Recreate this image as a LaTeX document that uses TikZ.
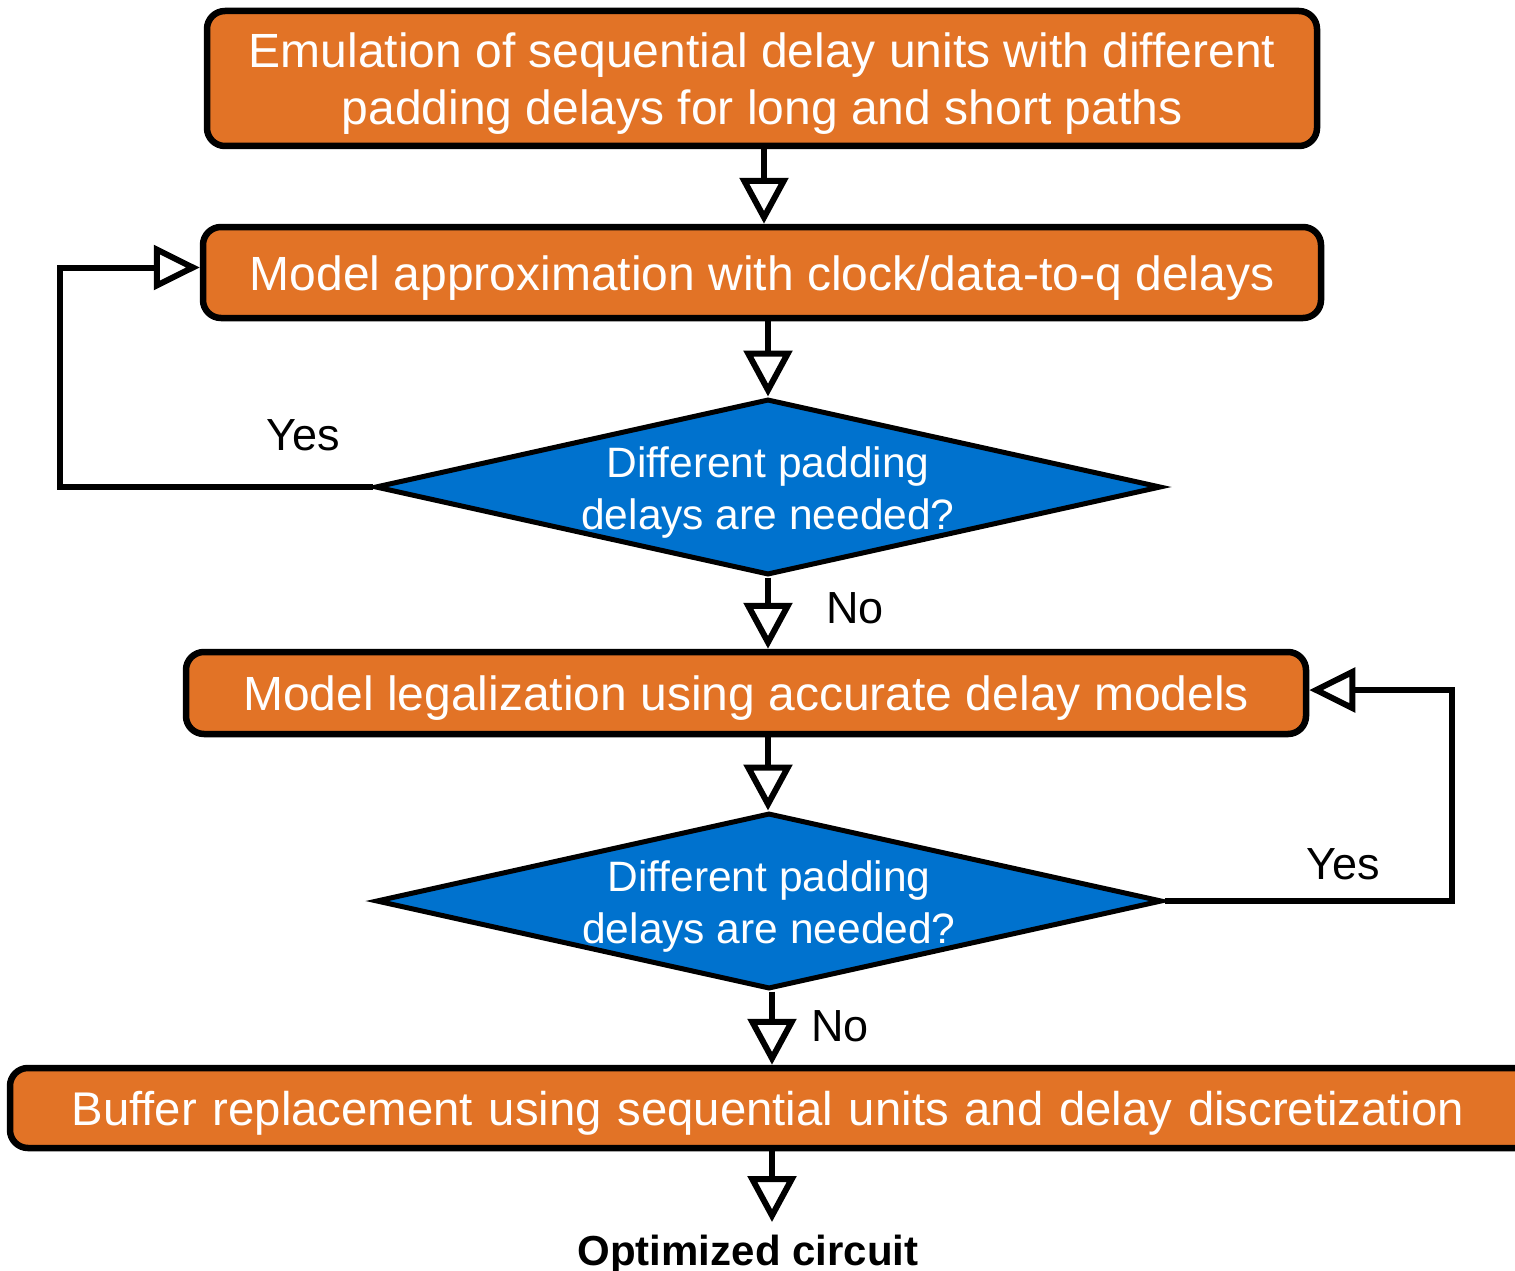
\documentclass[tikz,border=0pt]{standalone}
\usepackage{fontspec}
\setmainfont{Liberation Sans}
\usetikzlibrary{shapes.geometric,arrows.meta}
\definecolor{boxorange}{RGB}{226,115,38}
\definecolor{decblue}{RGB}{0,114,206}
% extra head room above a first text line, to lower the text block
\newcommand{\headroom}[1]{\rule{0pt}{#1}}
\tikzset{
  procbox/.style={draw=black, line width=6.5pt, fill=boxorange, rounded corners=18pt,
    text=white, align=center, inner sep=0pt, font=\fontsize{48}{57}\selectfont},
  decision/.style={diamond, draw=black, line width=5pt, fill=decblue, text=white,
    align=center, inner xsep=-60pt, inner ysep=-25pt, aspect=4.47,
    minimum width=786pt, minimum height=176pt,
    font=\fontsize{42.5}{52}\selectfont},
  flow/.style={line width=6pt, -{Triangle[open, length=46pt, width=48pt]}},
  loop/.style={line width=6pt, line join=miter, -{Triangle[open, length=46pt, width=44pt]}},
  tag/.style={font=\fontsize{45}{50}\selectfont, inner sep=0pt},
}
\begin{document}
\begin{tikzpicture}[x=1pt, y=-1pt]
\useasboundingbox[fill=white] (0,0) rectangle (1515,1271);

% process steps and decisions
\node[procbox, minimum width=1110pt, minimum height=135pt] (b1) at (762,78.5)
  {\headroom{45pt}Emulation of sequential delay units with different\\padding delays for long and short paths};
\node[procbox, minimum width=1118pt, minimum height=91pt] (b2) at (762,272.5)
  {\headroom{45pt}Model approximation with clock/data-to-q delays};
\node[decision] (d1) at (768,487) {\headroom{42pt}Different padding\\delays are needed?};
\node[procbox, minimum width=1120pt, minimum height=82pt] (b3) at (746,693)
  {\headroom{45pt}Model legalization using accurate delay models};
\node[decision] (d2) at (769,901) {\headroom{42pt}Different padding\\delays are needed?};
\node[procbox, minimum width=1540pt, minimum height=80pt, text width=1540pt,
  font=\fontsize{47.3}{57}\selectfont] (b4) at (780,1108)
  {\hspace*{-24pt}\headroom{45pt}Buffer replacement using sequential units and delay discretization};
\coordinate (fin) at (772,1222);
\node[font=\fontsize{42}{50}\selectfont\bfseries, inner sep=0pt, anchor=base] (res) at (748,1265)
  {Optimized circuit};

% main flow
\draw[flow] (b1.south -| 764,0) -- (b2.north -| 764,0);
\draw[flow] (b2.south -| d1.north) -- (d1.north);
\draw[flow] (d1.south) -- (b3.north -| d1.south);
\draw[flow] (b3.south -| d1.south) -- (d2.north -| d1.south);
\draw[flow] (d2.south -| 772,0) -- (b4.north -| 772,0);
\draw[flow] (b4.south -| fin) -- (fin);

% feedback loops
\draw[loop] (d1.west) -- (60,487) |- ([yshift=5pt]b2.west);
\draw[loop] (d2.east) -- (1452,901) |- ([yshift=3pt]b3.east);

% branch labels
\node[tag] (y1) at (303,435) {Yes};
\node[tag] (n1) at (855,608) {No};
\node[tag] (y2) at (1343,864) {Yes};
\node[tag] (n2) at (840,1026) {No};
\end{tikzpicture}
\end{document}
